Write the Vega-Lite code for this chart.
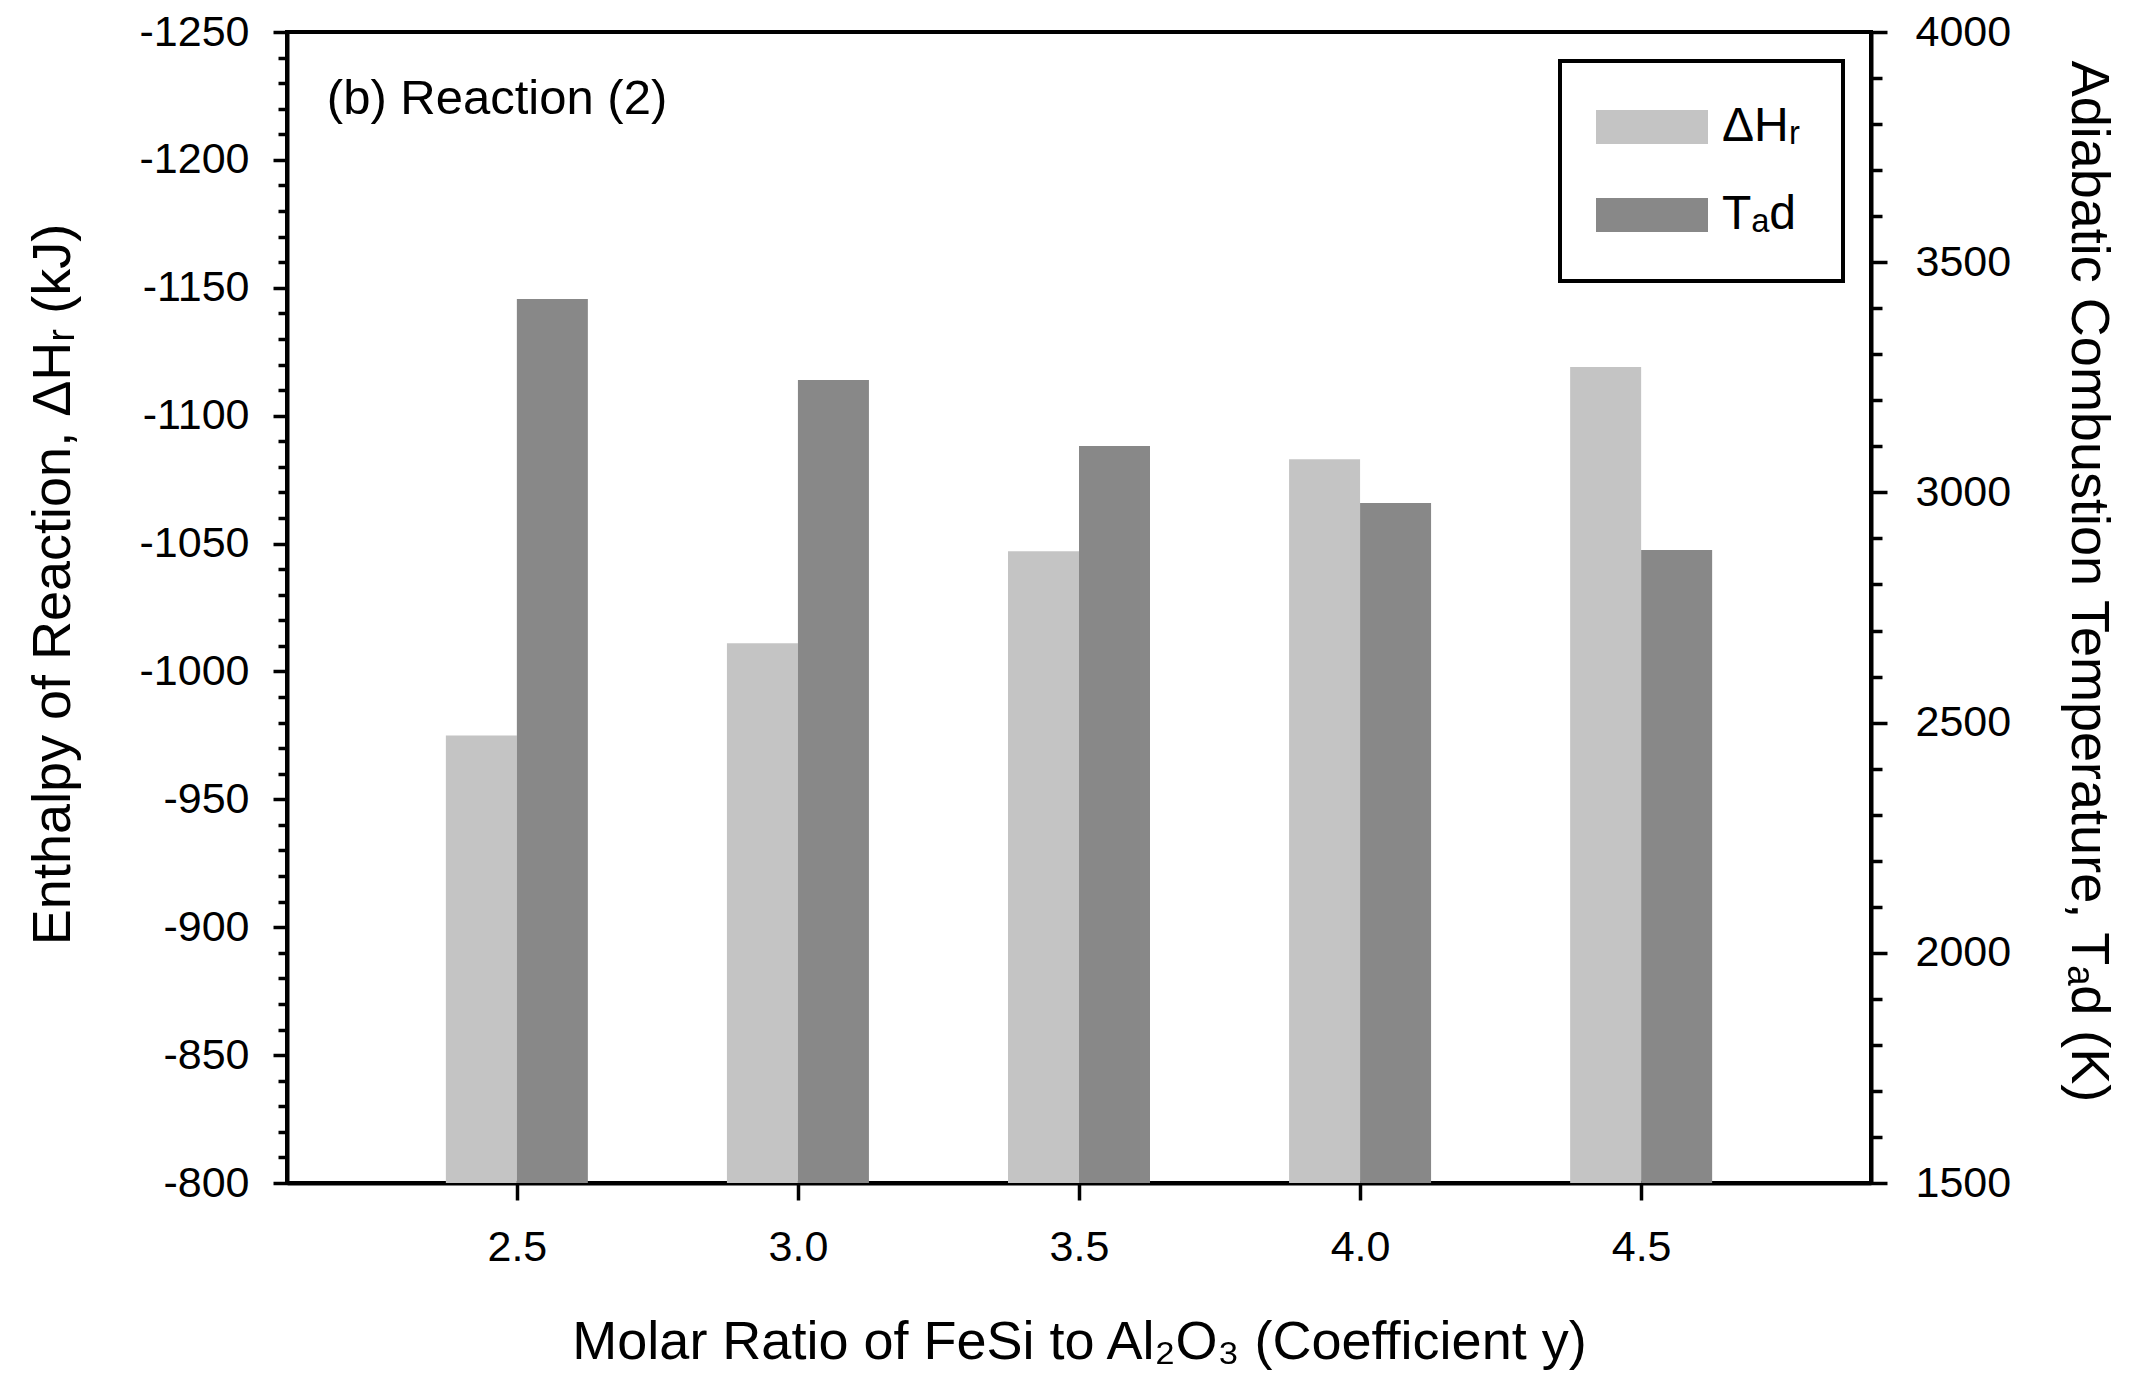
{
  "$schema": "https://vega.github.io/schema/vega-lite/v6.json",
  "width": 1584,
  "height": 1151,
  "autosize": {"type": "none"},
  "padding": {"left": 287, "top": 32, "right": 260, "bottom": 207},
  "background": "white",
  "config": {
    "font": "Liberation Sans",
    "view": {"stroke": "black", "strokeWidth": 4},
    "axis": {
      "domainColor": "black", "domainWidth": 4,
      "tickColor": "black", "tickWidth": 3.5,
      "labelColor": "black", "titleColor": "black",
      "labelFont": "Liberation Sans", "titleFont": "Liberation Sans",
      "labelFontSize": 43, "titleFontSize": 54, "titleFontWeight": "normal",
      "grid": false, "labelOverlap": false, "labelFlush": false, "labelBound": false
    },
    "legend": {
      "labelFont": "Liberation Sans", "labelFontSize": 48, "labelColor": "black",
      "strokeColor": "black", "strokeWidth": 4, "padding": 42
    }
  },
  "data": {
    "values": [
      {"ratio": 2.5, "dH": -975, "T": 3420},
      {"ratio": 3.0, "dH": -1011, "T": 3244},
      {"ratio": 3.5, "dH": -1047, "T": 3101},
      {"ratio": 4.0, "dH": -1083, "T": 2977},
      {"ratio": 4.5, "dH": -1119, "T": 2875}
    ]
  },
  "layer": [
    {
      "layer": [
        {
          "mark": {"type": "bar", "width": 71, "xOffset": -35.5},
          "encoding": {
            "x": {
              "field": "ratio", "type": "quantitative",
              "scale": {"domain": [2.1, 4.9], "nice": false, "zero": false},
              "axis": {
                "values": [2.5, 3.0, 3.5, 4.0, 4.5], "format": ".1f",
                "tickSize": 17, "labelPadding": 26, "labelOverlap": false,
                "title": "Molar Ratio of FeSi to Al₂O₃ (Coefficient y)",
                "titlePadding": 46
              }
            },
            "y": {
              "field": "dH", "type": "quantitative",
              "scale": {"domain": [-1250, -800], "reverse": true, "nice": false, "zero": false},
              "axis": {
                "orient": "left",
                "values": [-1250,-1200,-1150,-1100,-1050,-1000,-950,-900,-850,-800],
                "labelExpr": "'' + datum.value",
                "labelOverlap": false,
                "tickSize": 14,
                "labelPadding": 24,
                "title": "Enthalpy of Reaction, ΔHᵣ (kJ)",
                "titlePadding": 59,
                "titleY": 552
              }
            },
            "y2": {"datum": -800},
            "color": {
              "datum": "ΔH_r", "type": "nominal",
              "scale": {"domain": ["ΔH_r", "T_ad"], "range": ["#c4c4c4", "#888888"]},
              "legend": {
                "title": null, "orient": "none", "legendX": 1273, "legendY": 29,
                "symbolType": "M-2.8,-0.85L2.8,-0.85L2.8,0.85L-2.8,0.85Z", "symbolSize": 1600,
                "symbolOffset": 26,
                "symbolStrokeWidth": 0, "symbolOpacity": 1,
                "labelOffset": 46, "rowPadding": 40,
                "labelExpr": "datum.label === 'ΔH_r' ? 'ΔHᵣ' : 'Tₐd'"
              }
            }
          }
        },
        {
          "data": {"values": [{"label": "(b) Reaction (2)"}]},
          "mark": {"type": "text", "align": "left", "baseline": "alphabetic", "fontSize": 49, "font": "Liberation Sans", "color": "black"},
          "encoding": {
            "x": {"datum": 2.162},
            "y": {
              "datum": -1218,
              "axis": {
                "orient": "left",
                "values": [-1240,-1230,-1220,-1210,-1190,-1180,-1170,-1160,-1140,-1130,-1120,-1110,-1090,-1080,-1070,-1060,-1040,-1030,-1020,-1010,-990,-980,-970,-960,-940,-930,-920,-910,-890,-880,-870,-860,-840,-830,-820,-810],
                "labels": false, "domain": false, "title": null, "tickSize": 9
              }
            },
            "text": {"field": "label"}
          }
        }
      ],
      "resolve": {"axis": {"y": "independent"}}
    },
    {
      "layer": [
        {
          "mark": {"type": "bar", "width": 71, "xOffset": 35.5},
          "encoding": {
            "x": {"field": "ratio", "type": "quantitative"},
            "y": {
              "field": "T", "type": "quantitative",
              "scale": {"domain": [1500, 4000], "nice": false, "zero": false},
              "axis": {
                "orient": "right",
                "values": [1500,2000,2500,3000,3500,4000],
                "labelExpr": "'' + datum.value",
                "labelOverlap": false,
                "tickSize": 16,
                "labelPadding": 28,
                "title": "Adiabatic Combustion Temperature, Tₐd (K)",
                "titlePadding": 50,
                "titleY": 549
              }
            },
            "y2": {"datum": 1500},
            "color": {"datum": "T_ad", "type": "nominal"}
          }
        },
        {
          "data": {"values": [{"label": ""}]},
          "mark": {"type": "text", "fontSize": 1},
          "encoding": {
            "x": {"datum": 2.5},
            "y": {
              "datum": 1500,
              "axis": {
                "orient": "right",
                "values": [1600,1700,1800,1900,2100,2200,2300,2400,2600,2700,2800,2900,3100,3200,3300,3400,3600,3700,3800,3900],
                "labels": false, "domain": false, "title": null, "tickSize": 11
              }
            },
            "text": {"field": "label"}
          }
        }
      ],
      "resolve": {"axis": {"y": "independent"}}
    }
  ],
  "resolve": {"scale": {"y": "independent"}}
}
